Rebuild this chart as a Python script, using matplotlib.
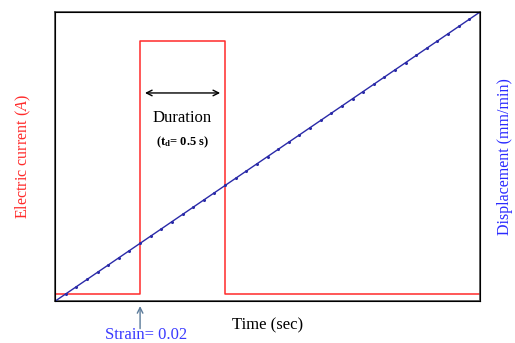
import matplotlib.pyplot as plt

plt.rcParams['font.family'] = ['Liberation Serif', 'DejaVu Serif']
plt.rcParams['mathtext.fontset'] = 'custom'
plt.rcParams['mathtext.rm'] = 'Liberation Serif'
plt.rcParams['mathtext.it'] = 'Liberation Serif:italic'
plt.rcParams['mathtext.bf'] = 'Liberation Serif:bold'

# pulse of electric current (relative units)
pulse_time = [0.0, 0.2, 0.2, 0.4, 0.4, 1.0]
pulse_current = [0.025, 0.025, 0.9, 0.9, 0.025, 0.025]

# crosshead displacement
disp_time = [0.0, 0.025, 0.05, 0.075, 0.1, 0.125, 0.15, 0.175, 0.2, 0.225,
             0.25, 0.275, 0.3, 0.325, 0.35, 0.375, 0.4, 0.425, 0.45, 0.475,
             0.5, 0.525, 0.55, 0.575, 0.6, 0.625, 0.65, 0.675, 0.7, 0.725,
             0.75, 0.775, 0.8, 0.825, 0.85, 0.875, 0.9, 0.925, 0.95, 0.975, 1.0]
disp_value = [0.0, 0.025, 0.05, 0.075, 0.1, 0.125, 0.15, 0.175, 0.2, 0.225,
              0.25, 0.275, 0.3, 0.325, 0.35, 0.375, 0.4, 0.425, 0.45, 0.475,
              0.5, 0.525, 0.55, 0.575, 0.6, 0.625, 0.65, 0.675, 0.7, 0.725,
              0.75, 0.775, 0.8, 0.825, 0.85, 0.875, 0.9, 0.925, 0.95, 0.975, 1.0]

fig = plt.figure(figsize=(5.15, 3.43), dpi=100)
ax = fig.add_axes([0.107, 0.122, 0.825, 0.843])
ax.plot(pulse_time, pulse_current, color='#ff2a2a', lw=1.1)
ax.set_xlim(0, 1)
ax.set_ylim(0, 1)
ax.set_xticks([])
ax.set_yticks([])
for s in ax.spines.values():
    s.set_color('#454545')
    s.set_linewidth(1.2)

ax2 = ax.twinx()
ax2.plot(disp_time, disp_value, color='#2a2aa8', lw=1.0, marker='o', ms=1.2)
ax2.set_ylim(0, 1)
ax2.set_yticks([])

ax.set_ylabel('Electric current ($\\it{A}$)', color='#ff2a2a', fontsize=11.5, labelpad=16)
ax2.set_ylabel('Displacement (mm/min)', color='#2a2aff', fontsize=11.5, labelpad=12)
ax.set_xlabel('Time (sec)', fontsize=12, labelpad=12)

ax.annotate('', xy=(0.205, 0.72), xytext=(0.395, 0.72),
            arrowprops=dict(arrowstyle='<->', color='black', lw=1.0))
ax.text(0.3, 0.635, 'Duration', ha='center', va='center', fontsize=12)
ax.text(0.3, 0.55, '(t$_{\\mathbf{d}}$= 0.5 s)', ha='center', va='center',
        fontsize=9, fontweight='bold')

ax.annotate('', xy=(0.2, -0.017), xytext=(0.2, -0.095),
            xycoords='axes fraction', textcoords='axes fraction',
            arrowprops=dict(arrowstyle='->', color='#5a7a9a', lw=1.0,
                            shrinkA=0, shrinkB=0))
ax.text(0.213, -0.118, 'Strain= 0.02', transform=ax.transAxes, ha='center',
        va='center', fontsize=12, color='#3a3aff')

fig.savefig('out.png')
